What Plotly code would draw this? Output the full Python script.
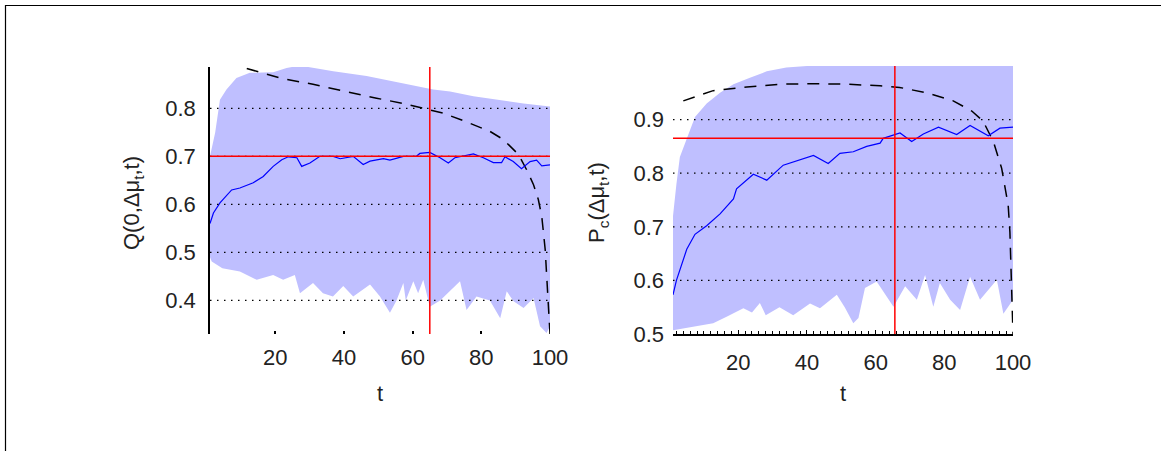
import plotly.graph_objects as go

# ---------------- data: left panel  Q(0,Δμt,t) ----------------
q_up_t = [1, 2.5, 3.9, 5.8, 8.7, 12.6, 19.4, 23.3, 27.2, 36.9, 46.6, 56.3, 66, 70.9, 77.7, 87.4, 92.3, 100]
q_up = [0.70, 0.749, 0.818, 0.839, 0.863, 0.874, 0.875, 0.884, 0.889, 0.877, 0.867, 0.853, 0.839, 0.835, 0.825, 0.815, 0.81, 0.804]

q_lo_t = [1, 1.5, 4.6, 9.7, 14.6, 17.5, 19.4, 22.3, 25.7, 27.2, 31, 33.9, 36.8, 39.8, 42.7, 47.6, 50.5, 53.4, 55.3,
          57.3, 58, 60.2, 61.6, 63.1, 65, 68, 73.8, 75.7, 78.6, 82.5, 85.5, 87.4, 89.4, 92.3, 95.2, 97.1, 99, 100]
q_lo = [0.49, 0.481, 0.467, 0.46, 0.443, 0.45, 0.453, 0.443, 0.453, 0.415, 0.436, 0.415, 0.408, 0.43, 0.408, 0.433, 0.408,
        0.374, 0.40, 0.436, 0.40, 0.44, 0.415, 0.443, 0.387, 0.40, 0.44, 0.38, 0.408, 0.40, 0.363, 0.419, 0.398, 0.384,
        0.405, 0.346, 0.332, 0.346]

q_mean_t = [1, 2, 3.9, 7.3, 9.7, 13.6, 16.5, 19.4, 21.9, 23.8, 26.3, 27.7, 30.1, 33, 36.9, 38.9, 42.7, 45.6, 47.6,
            51.5, 53.4, 57.3, 61.1, 62.1, 65, 68, 70.4, 72.3, 77.7, 80.6, 83.5, 85.9, 86.9, 89.3, 91.7, 94.2, 96.1,
            97.6, 100]
q_mean = [0.56, 0.582, 0.603, 0.63, 0.634, 0.645, 0.658, 0.679, 0.693, 0.699, 0.697, 0.679, 0.686, 0.70, 0.70, 0.695,
          0.70, 0.683, 0.69, 0.695, 0.692, 0.70, 0.70, 0.706, 0.708, 0.697, 0.686, 0.697, 0.705, 0.697, 0.687, 0.687,
          0.699, 0.689, 0.674, 0.689, 0.692, 0.68, 0.682]

q_dash_t = [11.7, 21.4, 31, 39.8, 49.5, 57.3, 65, 68.9, 75.2, 82.5, 86.4, 90.8, 93.2, 95.2, 96.6, 97.6, 98.6, 99.5, 100]
q_dash = [0.883, 0.863, 0.85, 0.836, 0.821, 0.81, 0.797, 0.79, 0.773, 0.752, 0.735, 0.704, 0.672, 0.641, 0.61,
          0.575, 0.506, 0.38, 0.33]

q_t_star = 65
q_star = 0.70
q_yticks = [0.4, 0.5, 0.6, 0.7, 0.8]

# ---------------- data: right panel  Pc(Δμt,t) ----------------
p_up_t = [1, 2, 3, 5, 7.4, 10.8, 14.7, 18.6, 23.4, 28.3, 34, 40, 100]
p_up = [0.72, 0.78, 0.83, 0.865, 0.905, 0.93, 0.95, 0.966, 0.978, 0.99, 0.997, 1.0, 1.0]

p_lo_t = [1, 6.9, 12.7, 16.6, 21.5, 24, 26.3, 28, 32, 36, 40.9, 43.8, 48.7, 51, 53.5, 55, 56.9, 60.3, 63.2, 65.2,
          68.6, 72, 74.4, 76.8, 78.7, 81.7, 84.6, 87.5, 90.4, 95.3, 97.2, 100]
p_lo = [0.507, 0.513, 0.52, 0.532, 0.548, 0.54, 0.558, 0.535, 0.55, 0.535, 0.557, 0.548, 0.573, 0.55, 0.52, 0.53,
        0.586, 0.598, 0.57, 0.551, 0.589, 0.564, 0.61, 0.551, 0.595, 0.564, 0.545, 0.607, 0.564, 0.601, 0.538, 0.564]

p_mean_t = [1, 2, 5, 7.4, 10.8, 14.7, 18.6, 19.5, 24.4, 28.3, 33.1, 38, 41.9, 46.2, 49.6, 53.5, 57.4, 61.3, 62.2,
            67.1, 70.5, 73.9, 78.3, 83.6, 87.5, 92.8, 96.2, 100]
p_mean = [0.573, 0.60, 0.658, 0.686, 0.702, 0.724, 0.752, 0.771, 0.798, 0.787, 0.815, 0.825, 0.833, 0.818, 0.837,
          0.84, 0.85, 0.856, 0.865, 0.875, 0.859, 0.873, 0.886, 0.872, 0.889, 0.87, 0.884, 0.886]

p_dash_t = [4, 12.7, 22.5, 32.2, 41.9, 51.6, 61.3, 67, 74.9, 82.6, 88, 91.3, 94.3, 96.7, 98.6, 99.1, 100]
p_dash = [0.935, 0.954, 0.961, 0.966, 0.967, 0.966, 0.963, 0.96, 0.95, 0.935, 0.916, 0.897, 0.859, 0.809, 0.74,
          0.69, 0.5]

p_t_star = 65.6
p_star = 0.865
p_yticks = [0.5, 0.6, 0.7, 0.8, 0.9]

x_ticks = [20, 40, 60, 80, 100]

# ---------------- styles ----------------
W, H = 1161, 451
FILL = "rgb(191,191,255)"
FONT = "Liberation Sans, Arial, sans-serif"
FS = 22

fig = go.Figure()


def panel_fill(xa, ya, up_t, up, lo_t, lo, m_t, m, d_t, d):
    poly_x = list(lo_t) + list(reversed(up_t))
    poly_y = list(lo) + list(reversed(up))
    fig.add_trace(go.Scatter(x=poly_x, y=poly_y, xaxis=xa, yaxis=ya, mode="lines", line=dict(width=0),
                             fill="toself", fillcolor=FILL, showlegend=False, hoverinfo="skip"))
    fig.add_trace(go.Scatter(x=d_t, y=d, xaxis=xa, yaxis=ya, mode="lines",
                             line=dict(color="black", width=1.5, dash="12px,9px"), showlegend=False))
    fig.add_trace(go.Scatter(x=m_t, y=m, xaxis=xa, yaxis=ya, mode="lines",
                             line=dict(color="rgb(0,0,255)", width=1.2), showlegend=False))


panel_fill("x", "y", q_up_t, q_up, q_lo_t, q_lo, q_mean_t, q_mean, q_dash_t, q_dash)
panel_fill("x2", "y2", p_up_t, p_up, p_lo_t, p_lo, p_mean_t, p_mean, p_dash_t, p_dash)

# pixel geometry of the two axes boxes
L_x0, L_x1, L_top, L_bot = 210, 550, 67, 334
R_x0, R_x1, R_top, R_bot = 673, 1013, 66, 334

tickfont = dict(family=FONT, size=FS, color="#222")

fig.update_layout(
    width=W, height=H, autosize=False, margin=dict(l=0, r=0, t=0, b=0, autoexpand=False),
    paper_bgcolor="white", plot_bgcolor="rgba(0,0,0,0)",
    xaxis=dict(domain=[L_x0 / W, L_x1 / W], range=[1, 100], tickvals=x_ticks, ticks="inside", ticklen=3,
               tickwidth=1.5, tickcolor="black", showline=False, showgrid=False, zeroline=False,
               tickfont=tickfont, ticklabelstandoff=8, anchor="y"),
    yaxis=dict(domain=[1 - L_bot / H, 1 - L_top / H], range=[0.33, 0.886], tickvals=q_yticks,
               ticks="", showline=True, linecolor="black", linewidth=1.5, showgrid=False, zeroline=False,
               tickfont=tickfont, ticklabelstandoff=8, anchor="x"),
    xaxis2=dict(domain=[R_x0 / W, R_x1 / W], range=[1, 100], tickvals=x_ticks, ticks="inside", ticklen=4,
                tickwidth=1.2, tickcolor="black", showline=True, linecolor="black", linewidth=1.5,
                minor=dict(dtick=2, tick0=0, ticks="inside", ticklen=3, tickcolor="black", tickwidth=1),
                showgrid=False, zeroline=False, tickfont=tickfont, ticklabelstandoff=8, anchor="y2"),
    yaxis2=dict(domain=[1 - R_bot / H, 1 - R_top / H], range=[0.5, 1.0], tickvals=p_yticks,
                ticks="", showline=False, showgrid=False, zeroline=False,
                tickfont=tickfont, ticklabelstandoff=8, anchor="x2"),
)

shapes = []
for v in q_yticks:
    shapes.append(dict(type="line", xref="x domain", yref="y", x0=0, x1=1, y0=v, y1=v, layer="above",
                       line=dict(color="black", width=1.3, dash="1.5px,5.5px")))
for v in p_yticks[1:]:
    shapes.append(dict(type="line", xref="x2 domain", yref="y2", x0=0, x1=1, y0=v, y1=v, layer="above",
                       line=dict(color="black", width=1.3, dash="1.5px,5.5px")))
shapes.append(dict(type="line", xref="x", yref="y domain", x0=q_t_star, x1=q_t_star, y0=0, y1=1, layer="above",
                   line=dict(color="red", width=1.5)))
shapes.append(dict(type="line", xref="x domain", yref="y", x0=0, x1=1, y0=q_star, y1=q_star, layer="above",
                   line=dict(color="red", width=1.5)))
shapes.append(dict(type="line", xref="x2", yref="y2 domain", x0=p_t_star, x1=p_t_star, y0=0, y1=1, layer="above",
                   line=dict(color="red", width=1.5)))
shapes.append(dict(type="line", xref="x2 domain", yref="y2", x0=0, x1=1, y0=p_star, y1=p_star, layer="above",
                   line=dict(color="red", width=1.5)))
shapes.append(dict(type="rect", xref="paper", yref="paper", x0=5.5 / W, x1=1.2, y0=-0.2, y1=1 - 5.5 / H,
                   line=dict(color="black", width=1.2), fillcolor="rgba(0,0,0,0)", layer="above"))
fig.update_layout(shapes=shapes)

titlefont = dict(family=FONT, size=FS, color="#222")
ann = [
    dict(text="t", x=(L_x0 + L_x1) / 2 / W, y=1 - 393 / H, xref="paper", yref="paper", showarrow=False,
         font=titlefont, xanchor="center", yanchor="middle"),
    dict(text="t", x=(R_x0 + R_x1) / 2 / W, y=1 - 393 / H, xref="paper", yref="paper", showarrow=False,
         font=titlefont, xanchor="center", yanchor="middle"),
    dict(text="Q(0,Δμ<sub>t</sub>,t)", x=133 / W, y=1 - 203 / H, xref="paper", yref="paper", showarrow=False,
         font=titlefont, textangle=-90, xanchor="center", yanchor="middle"),
    dict(text="P<sub>c</sub>(Δμ<sub>t</sub>,t)", x=598 / W, y=1 - 203 / H, xref="paper", yref="paper",
         showarrow=False, font=titlefont, textangle=-90, xanchor="center", yanchor="middle"),
]
fig.update_layout(annotations=ann)

fig.write_html("out.html", config={"responsive": False, "displayModeBar": False})
